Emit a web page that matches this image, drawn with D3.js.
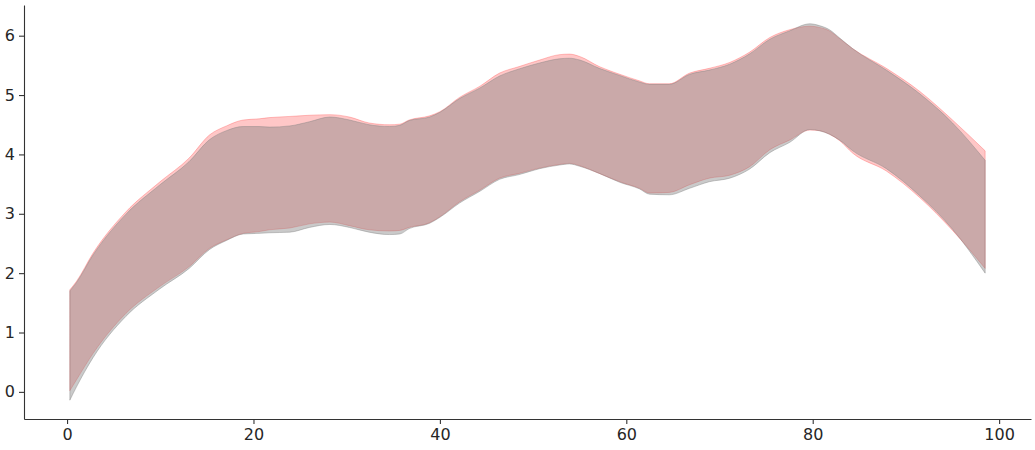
<!DOCTYPE html>
<html>
<head>
<meta charset="utf-8">
<script src="https://cdn.jsdelivr.net/npm/d3@7"></script>
<style>
  body { margin: 0; background: #fff; }
  svg { display: block; }
</style>
</head>
<body>
<div id="chart"></div>
<script>
const xs = [0.3, 1.0, 2.8, 6.3, 9.9, 13.1, 15.3, 17.1, 18.9, 20.6, 21.7, 23.9, 26.0, 28.2, 30.3,
  32.4, 34.6, 35.7, 36.7, 38.9, 40.0, 42.1, 44.3, 46.4, 48.5, 50.7, 52.8, 53.9, 55.0, 57.1,
  59.3, 61.4, 62.5, 64.6, 66.8, 68.9, 71.1, 73.2, 75.4, 77.5, 79.7, 80.7, 81.8, 82.9, 84.3,
  87.9, 91.5, 95.0, 98.5];

const grayHigh = [1.70, 1.84, 2.31, 2.99, 3.48, 3.88, 4.25, 4.40, 4.47, 4.47, 4.46, 4.48, 4.55, 4.63, 4.58,
  4.50, 4.47, 4.49, 4.57, 4.63, 4.71, 4.94, 5.12, 5.32, 5.44, 5.54, 5.61, 5.62, 5.59, 5.45,
  5.33, 5.22, 5.18, 5.18, 5.35, 5.42, 5.52, 5.69, 5.94, 6.08, 6.20, 6.17, 6.10, 5.96, 5.78,
  5.42, 5.02, 4.53, 3.90];
const grayLow = [-0.14, 0.08, 0.58, 1.27, 1.73, 2.08, 2.40, 2.55, 2.66, 2.67, 2.68, 2.69, 2.77, 2.82, 2.77,
  2.69, 2.65, 2.66, 2.75, 2.84, 2.94, 3.18, 3.38, 3.58, 3.66, 3.76, 3.82, 3.84, 3.80, 3.68,
  3.53, 3.42, 3.33, 3.32, 3.43, 3.54, 3.60, 3.75, 4.03, 4.20, 4.42, 4.40, 4.34, 4.24, 4.06,
  3.76, 3.30, 2.74, 2.00];

const redHigh = [1.72, 1.86, 2.34, 3.03, 3.53, 3.94, 4.33, 4.48, 4.58, 4.60, 4.62, 4.64, 4.66, 4.67, 4.63,
  4.53, 4.50, 4.51, 4.58, 4.65, 4.72, 4.96, 5.15, 5.37, 5.48, 5.59, 5.68, 5.69, 5.65, 5.48,
  5.35, 5.24, 5.19, 5.19, 5.37, 5.45, 5.55, 5.72, 5.97, 6.10, 6.16, 6.14, 6.08, 5.95, 5.78,
  5.45, 5.06, 4.58, 4.06];
const redLow = [0.02, 0.20, 0.65, 1.32, 1.77, 2.11, 2.42, 2.56, 2.67, 2.70, 2.73, 2.76, 2.83, 2.86, 2.80,
  2.73, 2.71, 2.72, 2.77, 2.85, 2.95, 3.20, 3.40, 3.60, 3.68, 3.77, 3.83, 3.85, 3.81, 3.68,
  3.54, 3.43, 3.35, 3.36, 3.49, 3.60, 3.65, 3.79, 4.08, 4.24, 4.41, 4.40, 4.34, 4.23, 4.02,
  3.72, 3.27, 2.72, 2.08];

const xTicks = [0, 20, 40, 60, 80, 100];
const yTicks = [0, 1, 2, 3, 4, 5, 6];

const width = 1035;
const height = 450;
const margin = { top: 5, right: 4, bottom: 31, left: 24 };
const axisColor = '#333333';
const textColor = '#262626';

const svg = d3.select('#chart').append('svg')
  .attr('width', width)
  .attr('height', height);

const x = d3.scaleLinear()
  .domain([-4.62, 103.42])
  .range([margin.left, width - margin.right]);

const y = d3.scaleLinear()
  .domain([-0.457, 6.517])
  .range([height - margin.bottom, margin.top]);

function band(low, high) {
  return d3.area()
    .curve(d3.curveMonotoneX)
    .x((d, i) => x(xs[i]))
    .y0((d, i) => y(low[i]))
    .y1((d, i) => y(high[i]))(xs);
}

// red band first, gray band drawn over it
svg.append('path')
  .attr('d', band(redLow, redHigh))
  .attr('fill', 'red')
  .attr('fill-opacity', 0.22)
  .attr('stroke', 'red')
  .attr('stroke-opacity', 0.22)
  .attr('stroke-width', 1);

svg.append('path')
  .attr('d', band(grayLow, grayHigh))
  .attr('fill', 'gray')
  .attr('fill-opacity', 0.42)
  .attr('stroke', 'gray')
  .attr('stroke-opacity', 0.42)
  .attr('stroke-width', 1);

const xAxis = svg.append('g')
  .attr('transform', `translate(0, ${height - margin.bottom})`)
  .call(d3.axisBottom(x).tickValues(xTicks).tickFormat(d3.format('d'))
    .tickSize(5).tickPadding(5).tickSizeOuter(0));

const yAxis = svg.append('g')
  .attr('transform', `translate(${margin.left}, 0)`)
  .call(d3.axisLeft(y).tickValues(yTicks).tickFormat(d3.format('d'))
    .tickSize(5).tickPadding(4).tickSizeOuter(0));

[xAxis, yAxis].forEach((g) => {
  g.select('.domain').attr('stroke', axisColor).attr('stroke-width', 1.1);
  g.selectAll('.tick line').attr('stroke', axisColor).attr('stroke-width', 1.1);
  g.selectAll('.tick text')
    .attr('fill', textColor)
    .style('font', "16px 'DejaVu Sans', sans-serif");
});
</script>
</body>
</html>
